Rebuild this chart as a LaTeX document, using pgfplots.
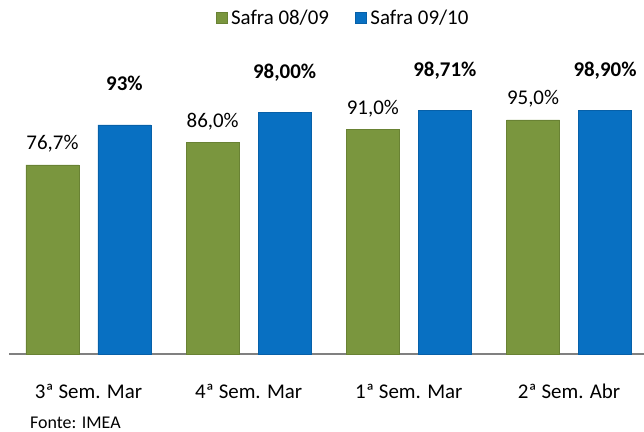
\documentclass[border=0pt]{standalone}
\usepackage{pgfplots}
\pgfplotsset{compat=1.18}
\usepackage{fontspec}
\setmainfont{Carlito}

\definecolor{safraA}{RGB}{122,150,62}
\definecolor{safraAdk}{RGB}{105,130,52}
\definecolor{safraB}{RGB}{8,112,194}
\definecolor{safraBdk}{RGB}{7,96,168}
\definecolor{axisgray}{RGB}{128,128,128}

\begin{document}
\begin{tikzpicture}
\useasboundingbox (-9bp,-78bp) rectangle (635bp,354bp);
\begin{axis}[
  at={(0,0)}, anchor=south west,
  scale only axis,
  width=635bp, height=295.8bp,
  xmin=-0.496, xmax=3.468,
  ymin=0, ymax=120,
  axis x line*=bottom,
  axis y line=none,
  x axis line style={draw=axisgray, line width=1.5bp, -},
  ybar, bar width=53bp,
  xtick={0,1,2,3},
  xticklabels={3ª Sem. Mar, 4ª Sem. Mar, 1ª Sem. Mar, 2ª Sem. Abr},
  major tick length=0pt,
  xticklabel style={anchor=base, yshift=-44bp, font=\fontsize{21}{25}\selectfont},
  ytick=\empty,
  clip=false,
  point meta=explicit symbolic,
  nodes near coords,
  legend columns=2,
  legend style={at={(axis description cs:0.526,1.136)}, anchor=center,
    draw=none, fill=none, font=\fontsize{21}{25}\selectfont,
    /tikz/every odd column/.append style={column sep=2bp},
    /tikz/every even column/.append style={column sep=24bp}},
  legend image code/.code={\fill[#1] (0bp,-5.5bp) rectangle (11bp,5.5bp);},
]
\addplot[fill=safraA, draw=safraAdk, bar shift=-36bp,
  every node near coord/.append style={anchor=base, yshift=15bp, text=black,
    font=\fontsize{21}{25}\selectfont}]
  coordinates {(0,76.7) [76,7\%] (1,86.0) [86,0\%] (2,91.0) [91,0\%] (3,95.0) [95,0\%]};
\addlegendentry{Safra 08/09}
\addplot[fill=safraB, draw=safraBdk, bar shift=36bp,
  every node near coord/.append style={anchor=base, yshift=34bp, text=black,
    font=\fontsize{21}{25}\selectfont\bfseries}]
  coordinates {(0,93.0) [93\%] (1,98.00) [98,00\%] (2,98.71) [98,71\%] (3,98.90) [98,90\%]};
\addlegendentry{Safra 09/10}
\end{axis}
\node[anchor=base west, inner sep=0pt, font=\fontsize{18}{22}\selectfont] at (21bp,-74bp) {Fonte: IMEA};
\end{tikzpicture}
\end{document}
